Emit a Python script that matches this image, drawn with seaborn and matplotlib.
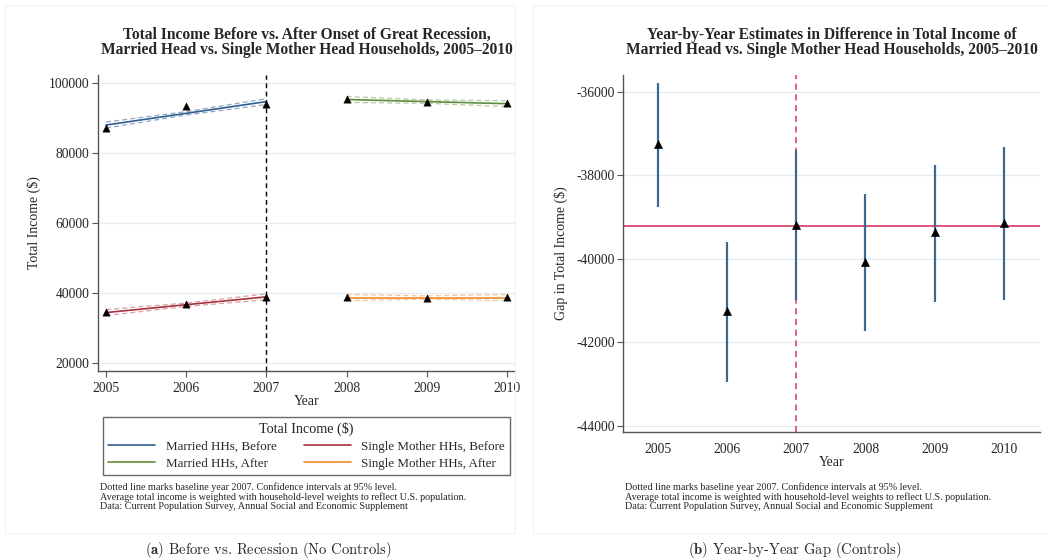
import numpy as np
import pandas as pd
import matplotlib
matplotlib.use("Agg")
import matplotlib.pyplot as plt
import seaborn as sns
from matplotlib.lines import Line2D
from matplotlib.patches import Rectangle

# --- Data ---
years_before = [2005, 2006, 2007]
years_after = [2008, 2009, 2010]

married_before = [87200, 93400, 93900]
married_before_fit = [88000, 91350, 94700]
married_after = [95400, 94700, 94200]
married_after_fit = [95300, 94700, 94100]
single_before = [34660, 36770, 38940]
single_before_fit = [34400, 36650, 38900]
single_after = [38750, 38700, 38720]
single_after_fit = [38700, 38700, 38700]
ci_halfwidth = [850, 480, 850]

years = [2005, 2006, 2007, 2008, 2009, 2010]
gap = [-37250, -41250, -39200, -40090, -39370, -39140]
gap_lo = [-38760, -42950, -40990, -41720, -41030, -40990]
gap_hi = [-35790, -39610, -37400, -38450, -37750, -37320]
gap_baseline = -39210

# legend fills column by column: left column married, right column single mother
legend_keys = ["mb", "ma", "sb", "sa"]
legend_labels = ["Married HHs, Before", "Married HHs, After",
                 "Single Mother HHs, Before", "Single Mother HHs, After"]
footnotes = ("Dotted line marks baseline year 2007. Confidence intervals at 95% level.\n"
             "Average total income is weighted with household-level weights to reflect U.S. population.\n"
             "Data: Current Population Survey, Annual Social and Economic Supplement")

# --- Style ---
sns.set_theme(style="white")
plt.rcParams["font.family"] = ["Liberation Serif", "DejaVu Serif"]
plt.rcParams["mathtext.fontset"] = "cm"
plt.rcParams["axes.unicode_minus"] = False

colors = {"mb": "#2f5f8f", "ma": "#5e8c3c", "sb": "#a8323e", "sa": "#f08a2c"}
ci_colors = {"mb": "#8fa9c4", "ma": "#b8c9a6", "sb": "#d9a0a6", "sa": "#f7c79a"}
grid_col = "#e4edf1"
spine_col = "#555555"

fig = plt.figure(figsize=(10.47, 5.6), dpi=100)

# panel frames
for x0, w in [(5, 510), (533, 520)]:
    fig.patches.append(Rectangle((x0 / 1047, 1 - 533 / 560), w / 1047, 528 / 560,
                                 transform=fig.transFigure, fill=False,
                                 edgecolor="#eef2f3", linewidth=0.8))


def style_axes(ax):
    sns.despine(ax=ax)
    for s in ["left", "bottom"]:
        ax.spines[s].set_color(spine_col)
        ax.spines[s].set_linewidth(1.0)
    ax.yaxis.grid(True, color=grid_col, linewidth=0.9)
    ax.set_axisbelow(True)
    ax.tick_params(axis="both", which="both", direction="out", length=4,
                   width=0.8, color=spine_col, labelsize=9.8, pad=2,
                   left=True, bottom=True)


# --- Panel (a) ---
ax1 = fig.add_axes([98 / 1047, 1 - 371 / 560, 417 / 1047, 296 / 560])
groups = [
    ("mb", years_before, married_before, married_before_fit),
    ("sb", years_before, single_before, single_before_fit),
    ("ma", years_after, married_after, married_after_fit),
    ("sa", years_after, single_after, single_after_fit),
]
for key, yrs, pts, fit in groups:
    fit_arr = np.array(fit)
    hw = np.array(ci_halfwidth)
    ax1.plot(yrs, fit_arr + hw, ls=(0, (4, 2.5)), color=ci_colors[key], lw=0.9)
    ax1.plot(yrs, fit_arr - hw, ls=(0, (4, 2.5)), color=ci_colors[key], lw=0.9)
    df = pd.DataFrame({"year": yrs, "fit": fit, "val": pts})
    sns.lineplot(data=df, x="year", y="fit", color=colors[key], lw=1.2, ax=ax1)
    sns.scatterplot(data=df, x="year", y="val", marker="^", color="black",
                    s=28, edgecolor="black", linewidth=0.3, zorder=5, ax=ax1)
ax1.axvline(2007, color="black", ls=(0, (3.5, 2.5)), lw=1.0)
ax1.set_xlim(2004.9, 2010.1)
ax1.set_ylim(17700, 102300)
ax1.set_xticks(years)
ax1.set_yticks([20000, 40000, 60000, 80000, 100000])
ax1.set_xlabel("Year", fontsize=10, labelpad=0)
ax1.set_ylabel("Total Income ($)", fontsize=10, labelpad=6)
style_axes(ax1)
ax1.tick_params(axis="x", pad=4)
ax1.set_title("Total Income Before vs. After Onset of Great Recession,\n"
              "Married Head vs. Single Mother Head Households, 2005\u20132010",
              fontsize=11.2, fontweight="bold", linespacing=0.95, pad=15, x=0.5)

handles = [Line2D([], [], color=colors[k], lw=1.2) for k in legend_keys]
leg = ax1.legend(handles, legend_labels, ncol=2, title="Total Income ($)",
                 loc="lower left", mode="expand", borderaxespad=0,
                 bbox_to_anchor=(103 / 1047, 1 - 475 / 560, 407 / 1047, 62 / 560),
                 bbox_transform=fig.transFigure, fontsize=9.4, title_fontsize=10.2,
                 frameon=True, fancybox=False, edgecolor="#444444",
                 handlelength=3.6, handletextpad=0.8, borderpad=0.4,
                 labelspacing=0.35, columnspacing=1.0)
leg.get_frame().set_linewidth(1.0)

fig.text(100 / 1047, 1 - 482 / 560, footnotes, fontsize=7.3, va="top", ha="left",
         linespacing=1.05)

# --- Panel (b) ---
ax2 = fig.add_axes([623 / 1047, 1 - 431.7 / 560, 417 / 1047, 356.7 / 560])
gdf = pd.DataFrame({"year": years, "gap": gap, "lo": gap_lo, "hi": gap_hi})
ax2.axhline(gap_baseline, color="#d9476e", lw=1.3, zorder=2)
ax2.axvline(2007, color="#e0305e", ls=(0, (4, 3)), lw=1.1, zorder=1)
ax2.vlines(gdf["year"], gdf["lo"], gdf["hi"], color="#3f6891", lw=1.6, zorder=3)
sns.scatterplot(data=gdf, x="year", y="gap", marker="^", color="black", s=36,
                edgecolor="black", linewidth=0.3, zorder=5, ax=ax2)
ax2.set_xlim(2004.5, 2010.52)
ax2.set_ylim(-44144, -35600)
ax2.set_xticks(years)
ax2.set_yticks([-44000, -42000, -40000, -38000, -36000])
ax2.set_xlabel("Year", fontsize=10, labelpad=0)
ax2.set_ylabel("Gap in Total Income ($)", fontsize=10, labelpad=6)
style_axes(ax2)
ax2.tick_params(axis="x", length=0, pad=8)
ax2.set_title("Year-by-Year Estimates in Difference in Total Income of\n"
              "Married Head vs. Single Mother Head Households, 2005\u20132010",
              fontsize=11.2, fontweight="bold", linespacing=0.95, pad=15)

fig.text(625 / 1047, 1 - 482 / 560, footnotes, fontsize=7.3, va="top", ha="left",
         linespacing=1.05)

# --- Subcaptions ---
fig.text(268 / 1047, 1 - 550 / 560, r"$\mathbf{(a)}$ Before vs. Recession (No Controls)",
         fontsize=10.5, family="cmr10", ha="center", va="center")
fig.text(795 / 1047, 1 - 550 / 560, r"$\mathbf{(b)}$ Year-by-Year Gap (Controls)",
         fontsize=10.5, family="cmr10", ha="center", va="center")

fig.savefig("out.png", dpi=100)
